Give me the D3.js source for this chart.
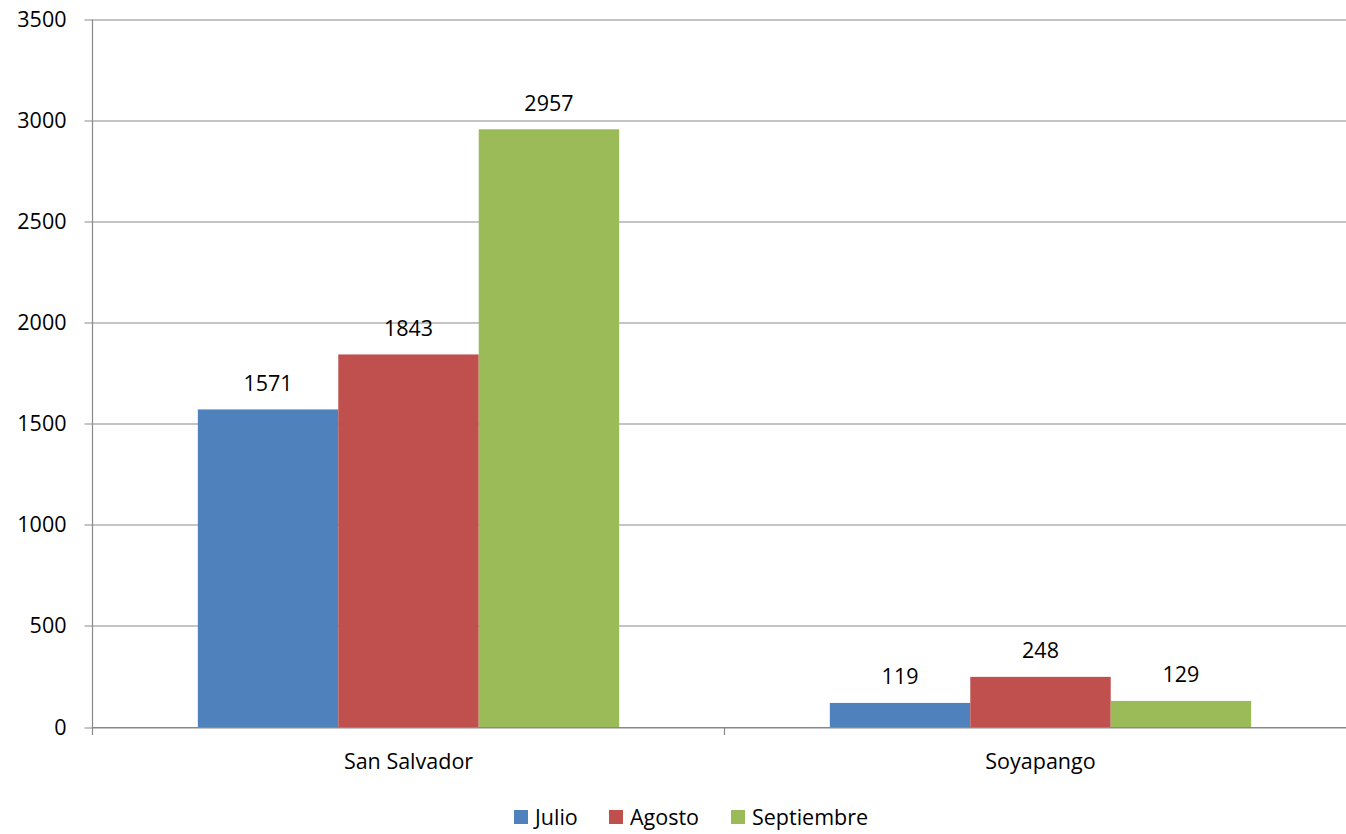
<!DOCTYPE html>
<html>
<head>
<meta charset="utf-8">
<script src="https://cdn.jsdelivr.net/npm/d3@7"></script>
<style>
  body { margin: 0; background: #fff; }
  text { font-family: "Open Sans", "Noto Sans", sans-serif; fill: #000; }
</style>
</head>
<body>
<div id="chart"></div>
<script>
// data
var categories = ["San Salvador", "Soyapango"];
var seriesNames = ["Julio", "Agosto", "Septiembre"];
var julio = [1571, 119];
var agosto = [1843, 248];
var septiembre = [2957, 129];
var yTicks = [0, 500, 1000, 1500, 2000, 2500, 3000, 3500];

var colors = ["#4F81BD", "#C0504D", "#9BBB59"];
var seriesValues = [julio, agosto, septiembre];

var W = 1346, H = 834;
var margin = { top: 19.5, left: 92.5 };
var plotW = 1264, plotH = 707.5;
var fs = "21.5px";

var svg = d3.select("#chart").append("svg")
  .attr("width", W)
  .attr("height", H);

var g = svg.append("g")
  .attr("transform", "translate(" + margin.left + "," + margin.top + ")");

var x0 = d3.scaleBand().domain(categories).range([0, plotW]).paddingInner(0).paddingOuter(0);
var x1 = d3.scaleBand().domain(seriesNames).range([0, x0.bandwidth()]).paddingInner(0).paddingOuter(0.75);
var y = d3.scaleLinear().domain([0, 3500]).range([plotH, 0]);

// gridlines
g.selectAll(".grid")
  .data(yTicks)
  .enter().append("line")
  .attr("x1", -8)
  .attr("x2", plotW)
  .attr("y1", function(d) { return Math.round(y(d)) + 0.5; })
  .attr("y2", function(d) { return Math.round(y(d)) + 0.5; })
  .attr("stroke", "#898989")
  .attr("stroke-width", 1.2);

// y labels
g.selectAll(".ylab")
  .data(yTicks)
  .enter().append("text")
  .attr("x", -26)
  .attr("y", function(d) { return y(d); })
  .attr("dy", "0.35em")
  .attr("text-anchor", "end")
  .style("font-size", fs)
  .text(function(d) { return d; });

// bars
var groups = g.selectAll(".cat")
  .data(categories)
  .enter().append("g")
  .attr("transform", function(d) { return "translate(" + x0(d) + ",0)"; });

groups.selectAll("rect")
  .data(function(d, i) {
    return seriesNames.map(function(s, j) { return { s: s, v: seriesValues[j][i], c: colors[j] }; });
  })
  .enter().append("rect")
  .attr("x", function(d) { return x1(d.s); })
  .attr("width", x1.bandwidth())
  .attr("y", function(d) { return y(d.v); })
  .attr("height", function(d) { return plotH - y(d.v); })
  .attr("fill", function(d) { return d.c; });

groups.selectAll(".val")
  .data(function(d, i) {
    return seriesNames.map(function(s, j) { return { s: s, v: seriesValues[j][i] }; });
  })
  .enter().append("text")
  .attr("x", function(d) { return x1(d.s) + x1.bandwidth() / 2; })
  .attr("y", function(d) { return y(d.v) - 26; })
  .attr("dy", "0.35em")
  .attr("text-anchor", "middle")
  .style("font-size", fs)
  .text(function(d) { return d.v; });

// y axis line
g.append("line")
  .attr("x1", 0).attr("x2", 0)
  .attr("y1", 0).attr("y2", plotH + 8)
  .attr("stroke", "#898989")
  .attr("stroke-width", 1.2);

// x axis line + ticks
g.append("line")
  .attr("x1", 0).attr("x2", plotW)
  .attr("y1", plotH + 0.5).attr("y2", plotH + 0.5)
  .attr("stroke", "#898989")
  .attr("stroke-width", 1.2);

g.selectAll(".xtick")
  .data(categories.slice(1))
  .enter().append("line")
  .attr("x1", function(d) { return x0(d); })
  .attr("x2", function(d) { return x0(d); })
  .attr("y1", plotH).attr("y2", plotH + 8)
  .attr("stroke", "#898989")
  .attr("stroke-width", 1.2);

g.selectAll(".xlab")
  .data(categories)
  .enter().append("text")
  .attr("x", function(d) { return x0(d) + x0.bandwidth() / 2; })
  .attr("y", plotH + 34)
  .attr("dy", "0.35em")
  .attr("text-anchor", "middle")
  .style("font-size", fs)
  .text(function(d) { return d; });

// legend
var legendX = [514, 609, 731];
var legend = svg.selectAll(".leg")
  .data(seriesNames)
  .enter().append("g")
  .attr("transform", function(d, i) { return "translate(" + legendX[i] + ",817)"; });

legend.append("rect")
  .attr("x", 0).attr("y", -7)
  .attr("width", 14).attr("height", 14)
  .attr("fill", function(d, i) { return colors[i]; });

legend.append("text")
  .attr("x", 21)
  .attr("y", 0)
  .attr("dy", "0.35em")
  .style("font-size", fs)
  .text(function(d) { return d; });
</script>
</body>
</html>
